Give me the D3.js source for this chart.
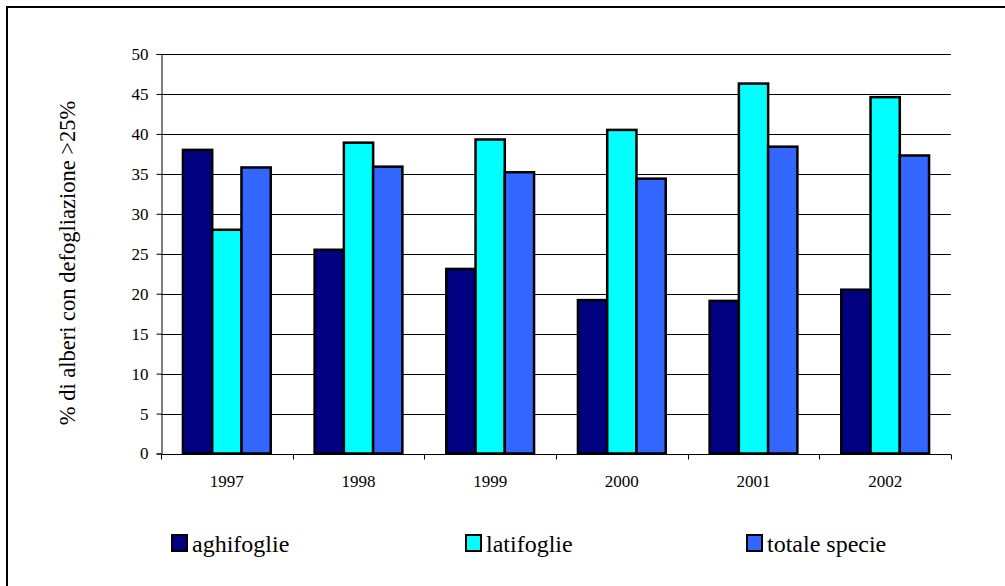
<!DOCTYPE html>
<html>
<head>
<meta charset="utf-8">
<script src="https://cdn.jsdelivr.net/npm/d3@7"></script>
<style>
  body { margin: 0; background: #fff; }
</style>
</head>
<body>
<div id="chart"></div>
<script>
const years = ["1997", "1998", "1999", "2000", "2001", "2002"];
const seriesNames = ["aghifoglie", "latifoglie", "totale specie"];
const aghifoglie = [38.0, 25.5, 23.1, 19.2, 19.1, 20.5];
const latifoglie = [28.0, 38.9, 39.3, 40.5, 46.3, 44.6];
const totaleSpecie = [35.8, 35.9, 35.2, 34.4, 38.4, 37.3];
const yTicks = [0, 5, 10, 15, 20, 25, 30, 35, 40, 45, 50];
const colors = ["#000080", "#00ffff", "#3366ff"];

const width = 1005, height = 586;
const margin = { left: 161, right: 54, top: 54, bottom: 132.5 };
const serif = "'Liberation Serif'";

const svg = d3.select("#chart").append("svg")
    .attr("width", width)
    .attr("height", height);

// outer frame (cut off at right and bottom)
svg.append("rect")
    .attr("x", 7).attr("y", 7)
    .attr("width", width + 20).attr("height", height + 20)
    .attr("fill", "none").attr("stroke", "#000").attr("stroke-width", 2);

const x0 = d3.scaleBand()
    .domain(years)
    .range([margin.left, width - margin.right])
    .paddingInner(0).paddingOuter(0);

// Excel style gap width 150%
const x1 = d3.scaleBand()
    .domain(seriesNames)
    .range([0, x0.bandwidth()])
    .paddingInner(0)
    .paddingOuter(0.75);

const y = d3.scaleLinear()
    .domain([0, 50])
    .range([height - margin.bottom, margin.top]);

// gridlines
svg.append("g").selectAll("line")
    .data(yTicks.filter(t => t > 0))
    .join("line")
    .attr("x1", margin.left).attr("x2", width - margin.right)
    .attr("y1", d => Math.round(y(d)) + 0.5).attr("y2", d => Math.round(y(d)) + 0.5)
    .attr("stroke", "#000").attr("stroke-width", 1);

// y axis
const yAxis = d3.axisLeft(y).tickValues(yTicks).tickSize(5).tickPadding(8);
const gy = svg.append("g").attr("transform", `translate(${margin.left + 0.5},0)`).call(yAxis);
gy.select(".domain").attr("stroke", "#000");
gy.selectAll(".tick line").attr("stroke", "#000");
gy.selectAll("text")
    .style("font-family", serif)
    .style("font-size", "17px")
    .attr("fill", "#000");

const series = [aghifoglie, latifoglie, totaleSpecie];
const rows = years.map((yr, i) => ({ year: yr, vals: series.map((s, k) => ({ key: seriesNames[k], value: s[i], k })) }));

// bars
svg.append("g").selectAll("g")
    .data(rows)
    .join("g")
    .attr("transform", d => `translate(${x0(d.year)},0)`)
    .selectAll("rect")
    .data(d => d.vals)
    .join("rect")
    .attr("x", d => x1(d.key))
    .attr("y", d => y(d.value))
    .attr("width", x1.bandwidth())
    .attr("height", d => y(0) - y(d.value))
    .attr("fill", d => colors[d.k])
    .attr("stroke", "#000")
    .attr("stroke-width", 2.5);

// x axis
const baseY = Math.round(y(0)) + 0.5;
svg.append("line")
    .attr("x1", margin.left).attr("x2", width - margin.right)
    .attr("y1", baseY).attr("y2", baseY)
    .attr("stroke", "#000");
const bounds = years.map(d => x0(d)).concat([width - margin.right]);
svg.append("g").selectAll("line")
    .data(bounds)
    .join("line")
    .attr("x1", d => Math.round(d) + 0.5).attr("x2", d => Math.round(d) + 0.5)
    .attr("y1", baseY).attr("y2", baseY + 5)
    .attr("stroke", "#000");
svg.append("g").selectAll("text")
    .data(years)
    .join("text")
    .attr("x", d => x0(d) + x0.bandwidth() / 2)
    .attr("y", 487)
    .attr("text-anchor", "middle")
    .style("font-family", serif)
    .style("font-size", "17px")
    .text(d => d);

// y label
svg.append("text")
    .attr("transform", "translate(75,263) rotate(-90)")
    .attr("text-anchor", "middle")
    .style("font-family", serif)
    .style("font-size", "22.5px")
    .text("% di alberi con defogliazione >25%");

// legend
const legendX = [172, 466, 747];
const leg = svg.append("g").selectAll("g")
    .data(seriesNames)
    .join("g")
    .attr("transform", (d, i) => `translate(${legendX[i]},535)`);
leg.append("rect")
    .attr("width", 15).attr("height", 16)
    .attr("fill", (d, i) => colors[i])
    .attr("stroke", "#000").attr("stroke-width", 2);
leg.append("text")
    .attr("x", 20).attr("y", 17)
    .style("font-family", serif)
    .style("font-size", "24px")
    .text(d => d);
</script>
</body>
</html>
